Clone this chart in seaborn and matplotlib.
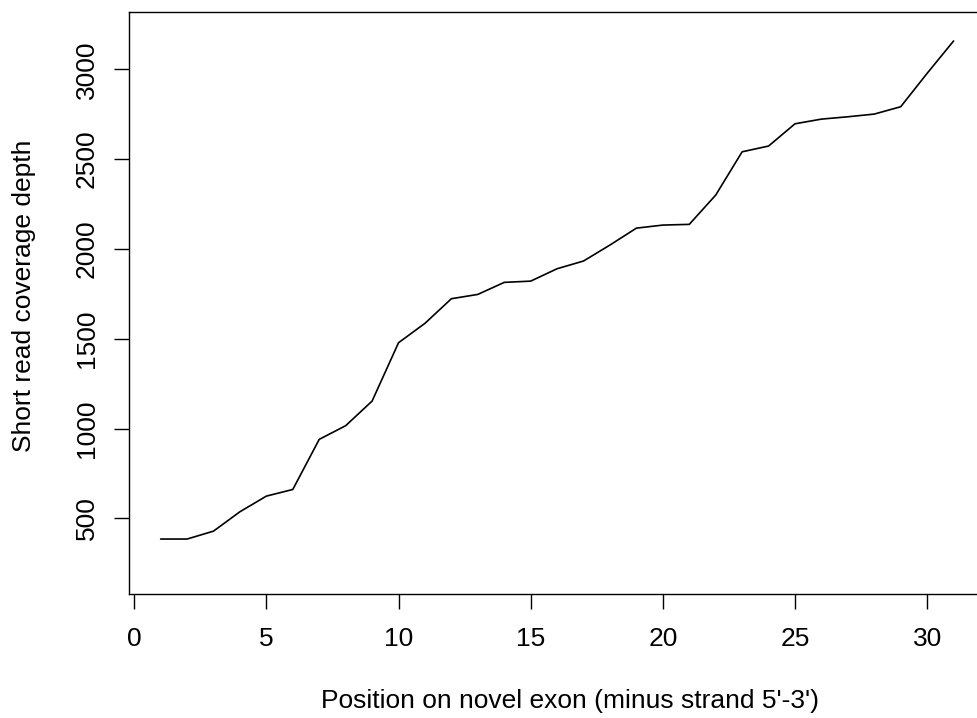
import matplotlib
matplotlib.use("Agg")
import matplotlib.pyplot as plt
import seaborn as sns
import pandas as pd

# coverage along the novel exon
positions = list(range(1, 32))
depth = [385, 385, 429, 537, 624, 661, 940, 1016, 1153, 1478,
         1586, 1723, 1747, 1814, 1821, 1890, 1933, 2022, 2116, 2133,
         2137, 2300, 2541, 2573, 2697, 2723, 2736, 2751, 2792, 2978, 3158]
x_ticks = [0, 5, 10, 15, 20, 25, 30]
y_ticks = [500, 1000, 1500, 2000, 2500, 3000]

df = pd.DataFrame({'pos': positions, 'depth': depth})

sns.set_style("white")
plt.rcParams['font.family'] = ['Liberation Sans', 'DejaVu Sans']
plt.rcParams['text.color'] = 'black'
plt.rcParams['axes.labelcolor'] = 'black'
plt.rcParams['xtick.color'] = 'black'
plt.rcParams['ytick.color'] = 'black'

fig = plt.figure(figsize=(9.77, 7.18), dpi=100)
ax = fig.add_axes([0.1325, 0.1727, 0.876, 0.811])

sns.lineplot(data=df, x='pos', y='depth', color='black', linewidth=1.2, ax=ax)

ax.set_xlim(-0.18, 32.2)
ax.set_ylim(79, 3321)
ax.set_xticks(x_ticks)
ax.set_yticks(y_ticks)
ax.set_yticklabels([str(v) for v in y_ticks], rotation=90, va='center')

for s in ax.spines.values():
    s.set_color('black')
    s.set_linewidth(1.0)

ax.tick_params(axis='both', direction='out', length=11, width=1.0,
               labelsize=19, left=True, bottom=True)
ax.tick_params(axis='x', pad=13)
ax.tick_params(axis='y', pad=11)

ax.set_xlabel("Position on novel exon (minus strand 5'-3')", fontsize=19)
ax.set_ylabel("Short read coverage depth", fontsize=19)
ax.xaxis.set_label_coords(0.5147, -0.163)
ax.yaxis.set_label_coords(-0.109, 0.512)

fig.savefig("out.png", dpi=100)
